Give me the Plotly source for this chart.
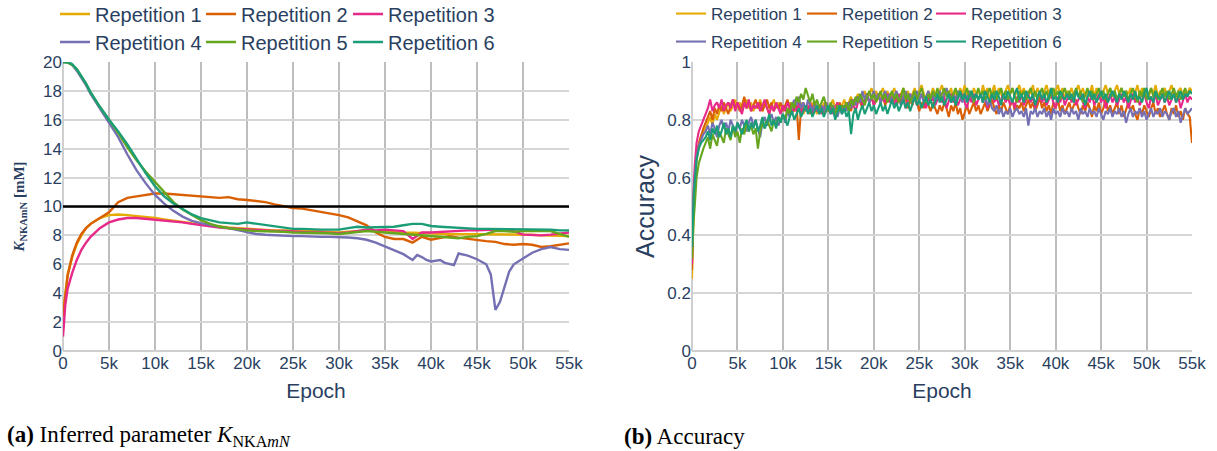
import plotly.graph_objects as go

# ---------------------------------------------------------------- data
REPS = ["Repetition 1", "Repetition 2", "Repetition 3",
        "Repetition 4", "Repetition 5", "Repetition 6"]
COLORS = ["#e6ab02", "#d95f02", "#e7298a", "#7570b3", "#66a61e", "#1b9e77"]

TRUE_K = 10  # reference value of K_NKAmN [mM]

# epochs at which K_NKAmN was logged
k_epochs = [0, 250, 500, 1000, 1500, 2000, 2500, 3000] + list(range(4000, 55001, 1000))

k_rep1 = [2.6, 4.2, 5.3, 6.5, 7.4, 8.0, 8.5, 8.8,
          9.2, 9.4, 9.45, 9.4, 9.35, 9.3, 9.2, 9.1, 9.0, 8.95, 8.85, 8.8,
          8.7, 8.65, 8.55, 8.5, 8.45, 8.4, 8.4, 8.35, 8.35, 8.3,
          8.3, 8.3, 8.25, 8.25, 8.2, 8.25, 8.3, 8.35, 8.3, 8.3,
          8.25, 8.2, 8.2, 8.15, 8.15, 8.1, 8.1, 8.1, 8.1, 8.1,
          8.05, 8.1, 8.1, 8.05, 8.1, 8.05, 8.0, 8.0, 8.0, 7.95]
k_rep2 = [2.4, 4.0, 5.2, 6.6, 7.5, 8.1, 8.5, 8.8,
          9.2, 9.6, 10.3, 10.6, 10.7, 10.8, 10.9, 10.9, 10.85, 10.85, 10.8, 10.75,
          10.7, 10.6, 10.65, 10.5, 10.45, 10.4, 10.3, 10.15, 10.0, 9.9,
          9.85, 9.75, 9.6, 9.5, 9.4, 9.25, 9.0, 8.7, 8.2, 7.9,
          7.75, 7.75, 7.5, 7.9, 7.7, 7.8, 7.95, 7.85, 7.75, 7.7,
          7.6, 7.55, 7.4, 7.35, 7.4, 7.35, 7.2, 7.25, 7.35, 7.45]
k_rep3 = [1.0, 3.2, 4.3, 5.4, 6.3, 7.0, 7.5, 7.9,
          8.5, 8.9, 9.1, 9.2, 9.2, 9.15, 9.1, 9.0, 8.95, 8.9, 8.8, 8.7,
          8.65, 8.55, 8.5, 8.45, 8.4, 8.35, 8.35, 8.3, 8.3, 8.25,
          8.25, 8.2, 8.2, 8.15, 8.15, 8.2, 8.3, 8.4, 8.35, 8.4,
          8.35, 8.3, 7.75, 8.2, 8.2, 8.25, 8.3, 8.3, 8.35, 8.35,
          8.4, 8.4, 8.4, 8.3, 8.05, 8.0, 8.0, 8.05, 8.15, 8.2]
k_rep5 = [20.0, 20.0, 19.95, 19.8, 19.5, 19.0, 18.5, 17.9,
          16.9, 16.0, 15.1, 14.1, 13.2, 12.4, 11.7, 11.0, 10.3, 9.8, 9.4, 9.05,
          8.8, 8.6, 8.5, 8.4, 8.35, 8.3, 8.3, 8.25, 8.25, 8.2,
          8.2, 8.2, 8.15, 8.15, 8.1, 8.15, 8.25, 8.3, 8.25, 8.2,
          8.15, 8.1, 8.05, 8.0, 8.0, 7.95, 7.9, 7.8, 7.9, 7.95,
          8.1, 8.3, 8.3, 8.25, 8.3, 8.3, 8.35, 8.3, 8.1, 7.9]
k_rep6 = [20.0, 20.0, 20.0, 19.85, 19.5, 19.0, 18.5, 17.9,
          16.9, 16.0, 15.2, 14.3, 13.3, 12.3, 11.4, 10.7, 10.2, 9.8, 9.45, 9.2,
          9.05, 8.9, 8.85, 8.8, 8.9, 8.8, 8.7, 8.6, 8.55, 8.45,
          8.45, 8.4, 8.4, 8.4, 8.4, 8.5, 8.6, 8.55, 8.55, 8.55,
          8.6, 8.7, 8.8, 8.8, 8.65, 8.6, 8.55, 8.5, 8.5, 8.45,
          8.45, 8.45, 8.45, 8.4, 8.45, 8.4, 8.4, 8.4, 8.35, 8.35]

# repetition 4 was logged more densely around its late excursion
k4_epochs = [0, 250, 500, 1000, 1500, 2000, 2500, 3000,
             4000, 5000, 6000, 7000, 8000, 9000, 10000, 11000, 12000, 13000, 14000, 15000,
             16000, 17000, 18000, 19000, 20000, 21000, 22000, 23000, 24000, 25000,
             26000, 27000, 28000, 29000, 30000, 31000, 32000, 33000, 34000, 35000,
             36000, 37000, 38000, 38500, 39000, 39500, 40000, 41000, 41500, 42000,
             42500, 43000, 44000, 45000, 46000, 46500, 47000, 47500, 48000, 48500,
             49000, 50000, 51000, 52000, 53000, 54000, 55000]
k_rep4 = [20.0, 20.0, 20.0, 19.8, 19.4, 18.9, 18.4, 17.8,
          16.8, 15.8, 14.8, 13.6, 12.5, 11.6, 10.8, 10.2, 9.7, 9.3, 9.0, 8.85,
          8.7, 8.6, 8.5, 8.35, 8.2, 8.1, 8.05, 8.0, 7.95, 7.95,
          7.95, 7.9, 7.9, 7.9, 7.9, 7.85, 7.8, 7.7, 7.5, 7.25,
          7.0, 6.7, 6.3, 6.65, 6.5, 6.3, 6.2, 6.3, 6.1, 6.05,
          5.95, 6.75, 6.6, 6.35, 6.0, 5.3, 2.85, 3.4, 4.5, 5.5,
          6.0, 6.4, 6.8, 7.05, 7.2, 7.05, 7.0]

# epochs at which accuracy was evaluated
acc_epochs = [0, 100, 200, 300, 400, 500, 750, 1000, 1250] + list(range(1500, 55001, 250))

acc_rep1 = [0.25, 0.42, 0.52, 0.58, 0.62, 0.66, 0.71, 0.74, 0.76,
            0.77, 0.79, 0.81, 0.78, 0.82, 0.80, 0.83, 0.85, 0.82, 0.84, 0.86, 0.83, 0.85, 0.87, 0.84, 0.86, 0.83, 0.85, 0.87, 0.84,
            0.86, 0.83, 0.85, 0.84, 0.87, 0.83, 0.86, 0.84, 0.82, 0.85, 0.87, 0.84, 0.86, 0.83, 0.85, 0.84, 0.82, 0.86, 0.84, 0.83,
            0.85, 0.83, 0.86, 0.82, 0.84, 0.85, 0.83, 0.86, 0.84, 0.82, 0.85, 0.83, 0.86, 0.84, 0.83, 0.85, 0.87, 0.84, 0.86, 0.83,
            0.85, 0.87, 0.84, 0.86, 0.88, 0.85, 0.87, 0.89, 0.86, 0.88, 0.90, 0.87, 0.89, 0.91, 0.88, 0.90, 0.87, 0.89, 0.91, 0.88,
            0.90, 0.87, 0.89, 0.91, 0.88, 0.86, 0.89, 0.91, 0.88, 0.90, 0.87, 0.89, 0.91, 0.88, 0.90, 0.92, 0.89, 0.87, 0.90, 0.88,
            0.91, 0.89, 0.87, 0.90, 0.92, 0.88, 0.90, 0.89, 0.91, 0.87, 0.90, 0.88, 0.91, 0.89, 0.92, 0.88, 0.90, 0.87, 0.91, 0.89,
            0.90, 0.88, 0.92, 0.89, 0.91, 0.87, 0.90, 0.92, 0.88, 0.91, 0.89, 0.87, 0.90, 0.92, 0.89, 0.91, 0.88, 0.90, 0.92, 0.89,
            0.91, 0.88, 0.90, 0.89, 0.92, 0.88, 0.91, 0.89, 0.87, 0.90, 0.92, 0.89, 0.91, 0.88, 0.90, 0.92, 0.89, 0.91, 0.87, 0.90,
            0.89, 0.91, 0.88, 0.90, 0.92, 0.89, 0.91, 0.88, 0.90, 0.89, 0.92, 0.88, 0.91, 0.89, 0.87, 0.90, 0.92, 0.89, 0.91, 0.88,
            0.90, 0.92, 0.89, 0.91, 0.88, 0.90, 0.89, 0.91, 0.87, 0.90, 0.92, 0.88, 0.91, 0.89, 0.90, 0.88, 0.91, 0.89, 0.92, 0.88,
            0.90, 0.89, 0.91, 0.88, 0.90, 0.92, 0.89, 0.87, 0.90, 0.91, 0.88, 0.90, 0.89, 0.91, 0.90]
acc_rep2 = [0.28, 0.45, 0.55, 0.60, 0.64, 0.68, 0.72, 0.75, 0.77,
            0.79, 0.81, 0.83, 0.80, 0.84, 0.82, 0.85, 0.83, 0.86, 0.84, 0.82, 0.85, 0.87, 0.84, 0.86, 0.83, 0.85, 0.88, 0.84, 0.86,
            0.83, 0.85, 0.87, 0.84, 0.86, 0.83, 0.85, 0.87, 0.84, 0.86, 0.83, 0.85, 0.84, 0.86, 0.83, 0.85, 0.87, 0.84, 0.86, 0.83,
            0.85, 0.73, 0.84, 0.86, 0.83, 0.85, 0.82, 0.84, 0.86, 0.83, 0.85, 0.84, 0.82, 0.86, 0.84, 0.83, 0.85, 0.82, 0.84, 0.86,
            0.83, 0.85, 0.84, 0.86, 0.83, 0.87, 0.85, 0.88, 0.86, 0.84, 0.87, 0.89, 0.86, 0.88, 0.85, 0.87, 0.89, 0.86, 0.88, 0.85,
            0.87, 0.89, 0.86, 0.88, 0.85, 0.87, 0.89, 0.86, 0.88, 0.84, 0.87, 0.85, 0.88, 0.86, 0.83, 0.86, 0.84, 0.87, 0.85, 0.83,
            0.86, 0.84, 0.82, 0.85, 0.83, 0.86, 0.84, 0.81, 0.85, 0.83, 0.86, 0.82, 0.84, 0.80, 0.83, 0.85, 0.82, 0.84, 0.86, 0.83,
            0.85, 0.82, 0.84, 0.86, 0.83, 0.85, 0.87, 0.84, 0.82, 0.85, 0.83, 0.86, 0.84, 0.82, 0.85, 0.87, 0.83, 0.85, 0.84, 0.86,
            0.83, 0.85, 0.87, 0.84, 0.86, 0.83, 0.85, 0.88, 0.84, 0.86, 0.83, 0.85, 0.82, 0.86, 0.84, 0.87, 0.83, 0.85, 0.82, 0.84,
            0.86, 0.83, 0.85, 0.87, 0.84, 0.82, 0.85, 0.83, 0.86, 0.84, 0.81, 0.85, 0.83, 0.86, 0.82, 0.84, 0.87, 0.83, 0.85, 0.82,
            0.84, 0.86, 0.82, 0.85, 0.81, 0.84, 0.86, 0.83, 0.85, 0.82, 0.80, 0.84, 0.82, 0.85, 0.83, 0.81, 0.84, 0.86, 0.82, 0.84,
            0.81, 0.83, 0.85, 0.82, 0.80, 0.84, 0.82, 0.85, 0.81, 0.83, 0.80, 0.84, 0.82, 0.81, 0.72]
acc_rep3 = [0.30, 0.48, 0.58, 0.64, 0.68, 0.72, 0.76, 0.78, 0.80,
            0.82, 0.84, 0.87, 0.83, 0.85, 0.86, 0.84, 0.87, 0.83, 0.85, 0.86, 0.84, 0.87, 0.83, 0.86, 0.84, 0.82, 0.86, 0.84, 0.87,
            0.83, 0.85, 0.84, 0.86, 0.83, 0.85, 0.87, 0.84, 0.82, 0.85, 0.83, 0.86, 0.84, 0.82, 0.85, 0.83, 0.86, 0.84, 0.82, 0.85,
            0.83, 0.86, 0.82, 0.84, 0.85, 0.83, 0.86, 0.82, 0.84, 0.83, 0.85, 0.82, 0.84, 0.86, 0.83, 0.85, 0.82, 0.84, 0.86, 0.83,
            0.85, 0.83, 0.86, 0.84, 0.87, 0.85, 0.83, 0.86, 0.88, 0.85, 0.87, 0.89, 0.86, 0.88, 0.85, 0.87, 0.89, 0.86, 0.88, 0.86,
            0.89, 0.86, 0.88, 0.85, 0.87, 0.89, 0.86, 0.88, 0.84, 0.87, 0.89, 0.86, 0.88, 0.85, 0.87, 0.89, 0.86, 0.84, 0.88, 0.86,
            0.88, 0.85, 0.87, 0.89, 0.86, 0.88, 0.84, 0.87, 0.89, 0.86, 0.88, 0.85, 0.87, 0.89, 0.86, 0.84, 0.88, 0.86, 0.89, 0.85,
            0.87, 0.89, 0.86, 0.88, 0.84, 0.87, 0.89, 0.86, 0.88, 0.85, 0.87, 0.89, 0.86, 0.88, 0.85, 0.87, 0.84, 0.88, 0.86, 0.89,
            0.85, 0.87, 0.89, 0.86, 0.88, 0.84, 0.87, 0.89, 0.86, 0.88, 0.85, 0.87, 0.89, 0.86, 0.84, 0.88, 0.86, 0.89, 0.85, 0.87,
            0.89, 0.86, 0.88, 0.85, 0.87, 0.89, 0.86, 0.84, 0.88, 0.86, 0.89, 0.85, 0.87, 0.89, 0.86, 0.88, 0.84, 0.87, 0.89, 0.86,
            0.88, 0.85, 0.87, 0.89, 0.86, 0.88, 0.84, 0.87, 0.89, 0.86, 0.88, 0.85, 0.87, 0.89, 0.86, 0.84, 0.88, 0.86, 0.89, 0.85,
            0.87, 0.89, 0.86, 0.88, 0.85, 0.87, 0.89, 0.86, 0.88, 0.84, 0.87, 0.89, 0.86, 0.88, 0.87]
acc_rep4 = [0.35, 0.50, 0.56, 0.60, 0.64, 0.67, 0.71, 0.73, 0.75,
            0.76, 0.78, 0.75, 0.79, 0.77, 0.74, 0.78, 0.80, 0.77, 0.79, 0.76, 0.80, 0.78, 0.75, 0.79, 0.77, 0.80, 0.78, 0.76, 0.79,
            0.81, 0.78, 0.80, 0.77, 0.74, 0.79, 0.81, 0.78, 0.80, 0.82, 0.79, 0.81, 0.78, 0.80, 0.82, 0.79, 0.83, 0.81, 0.85, 0.87,
            0.85, 0.88, 0.84, 0.86, 0.83, 0.87, 0.85, 0.83, 0.86, 0.84, 0.82, 0.85, 0.83, 0.86, 0.84, 0.82, 0.85, 0.83, 0.81, 0.84,
            0.82, 0.85, 0.83, 0.86, 0.84, 0.87, 0.85, 0.88, 0.86, 0.90, 0.87, 0.89, 0.86, 0.88, 0.90, 0.87, 0.89, 0.86, 0.88, 0.90,
            0.87, 0.89, 0.86, 0.88, 0.90, 0.87, 0.85, 0.88, 0.90, 0.87, 0.89, 0.86, 0.88, 0.90, 0.87, 0.89, 0.86, 0.88, 0.90, 0.87,
            0.89, 0.86, 0.88, 0.90, 0.87, 0.89, 0.91, 0.88, 0.86, 0.89, 0.87, 0.90, 0.88, 0.86, 0.89, 0.87, 0.90, 0.88, 0.86, 0.89,
            0.87, 0.89, 0.86, 0.88, 0.85, 0.87, 0.84, 0.83, 0.85, 0.82, 0.84, 0.81, 0.83, 0.82, 0.84, 0.81, 0.83, 0.84, 0.82, 0.83,
            0.81, 0.84, 0.78, 0.83, 0.82, 0.84, 0.81, 0.83, 0.82, 0.84, 0.81, 0.83, 0.80, 0.84, 0.82, 0.83, 0.81, 0.84, 0.82, 0.83,
            0.81, 0.84, 0.82, 0.83, 0.80, 0.84, 0.82, 0.83, 0.81, 0.84, 0.82, 0.83, 0.81, 0.84, 0.82, 0.80, 0.83, 0.82, 0.84, 0.81,
            0.83, 0.82, 0.84, 0.81, 0.83, 0.79, 0.82, 0.84, 0.81, 0.83, 0.82, 0.84, 0.81, 0.83, 0.80, 0.82, 0.84, 0.81, 0.83, 0.82,
            0.84, 0.81, 0.83, 0.82, 0.80, 0.83, 0.84, 0.81, 0.83, 0.79, 0.82, 0.84, 0.82, 0.83, 0.84]
acc_rep5 = [0.32, 0.42, 0.46, 0.50, 0.55, 0.60, 0.65, 0.68, 0.70,
            0.72, 0.74, 0.70, 0.75, 0.73, 0.71, 0.76, 0.74, 0.72, 0.77, 0.75, 0.73, 0.78, 0.74, 0.76, 0.72, 0.77, 0.75, 0.79, 0.76,
            0.78, 0.75, 0.77, 0.70, 0.76, 0.79, 0.77, 0.80, 0.78, 0.76, 0.80, 0.78, 0.81, 0.79, 0.82, 0.80, 0.84, 0.82, 0.86, 0.84,
            0.88, 0.86, 0.89, 0.87, 0.91, 0.88, 0.86, 0.89, 0.85, 0.87, 0.84, 0.86, 0.88, 0.85, 0.83, 0.86, 0.84, 0.82, 0.85, 0.83,
            0.85, 0.84, 0.86, 0.83, 0.87, 0.85, 0.88, 0.86, 0.89, 0.87, 0.85, 0.88, 0.90, 0.87, 0.89, 0.86, 0.88, 0.90, 0.87, 0.89,
            0.86, 0.88, 0.90, 0.87, 0.89, 0.86, 0.88, 0.91, 0.87, 0.89, 0.86, 0.88, 0.90, 0.87, 0.89, 0.91, 0.88, 0.86, 0.89, 0.87,
            0.90, 0.88, 0.91, 0.87, 0.89, 0.91, 0.88, 0.90, 0.87, 0.89, 0.91, 0.88, 0.90, 0.87, 0.89, 0.91, 0.88, 0.90, 0.86, 0.89,
            0.91, 0.88, 0.90, 0.87, 0.89, 0.91, 0.88, 0.90, 0.87, 0.89, 0.91, 0.88, 0.90, 0.87, 0.89, 0.91, 0.88, 0.86, 0.90, 0.88,
            0.90, 0.87, 0.89, 0.91, 0.88, 0.90, 0.87, 0.89, 0.91, 0.88, 0.90, 0.87, 0.89, 0.91, 0.88, 0.90, 0.87, 0.89, 0.91, 0.88,
            0.90, 0.87, 0.89, 0.91, 0.88, 0.90, 0.86, 0.89, 0.91, 0.88, 0.90, 0.87, 0.89, 0.91, 0.88, 0.90, 0.87, 0.89, 0.91, 0.88,
            0.90, 0.87, 0.89, 0.91, 0.88, 0.90, 0.87, 0.89, 0.91, 0.88, 0.86, 0.90, 0.88, 0.91, 0.87, 0.89, 0.91, 0.88, 0.90, 0.87,
            0.89, 0.91, 0.88, 0.90, 0.87, 0.89, 0.91, 0.88, 0.90, 0.87, 0.89, 0.91, 0.88, 0.90, 0.89]
acc_rep6 = [0.36, 0.48, 0.54, 0.58, 0.62, 0.66, 0.70, 0.72, 0.73,
            0.74, 0.76, 0.73, 0.77, 0.75, 0.78, 0.74, 0.76, 0.79, 0.75, 0.77, 0.74, 0.78, 0.76, 0.79, 0.77, 0.75, 0.78, 0.80, 0.76,
            0.79, 0.77, 0.80, 0.76, 0.78, 0.81, 0.77, 0.79, 0.82, 0.78, 0.80, 0.77, 0.81, 0.79, 0.82, 0.80, 0.78, 0.81, 0.83, 0.80,
            0.82, 0.84, 0.81, 0.83, 0.85, 0.82, 0.84, 0.81, 0.83, 0.85, 0.82, 0.84, 0.81, 0.83, 0.85, 0.82, 0.84, 0.80, 0.83, 0.85,
            0.82, 0.84, 0.81, 0.83, 0.75, 0.82, 0.84, 0.80, 0.83, 0.85, 0.82, 0.84, 0.86, 0.83, 0.85, 0.82, 0.84, 0.86, 0.83, 0.85,
            0.82, 0.85, 0.87, 0.84, 0.86, 0.83, 0.85, 0.87, 0.84, 0.86, 0.83, 0.86, 0.88, 0.85, 0.87, 0.84, 0.86, 0.88, 0.85, 0.87,
            0.84, 0.87, 0.89, 0.86, 0.88, 0.85, 0.87, 0.89, 0.86, 0.88, 0.85, 0.88, 0.90, 0.87, 0.89, 0.86, 0.88, 0.90, 0.87, 0.89,
            0.87, 0.89, 0.86, 0.90, 0.88, 0.86, 0.89, 0.87, 0.90, 0.88, 0.85, 0.89, 0.87, 0.90, 0.88, 0.86, 0.89, 0.91, 0.87, 0.89,
            0.86, 0.90, 0.88, 0.87, 0.89, 0.85, 0.88, 0.90, 0.87, 0.89, 0.86, 0.88, 0.91, 0.87, 0.88, 0.86, 0.90, 0.88, 0.87, 0.89,
            0.87, 0.89, 0.86, 0.90, 0.88, 0.87, 0.89, 0.85, 0.88, 0.90, 0.87, 0.89, 0.86, 0.88, 0.90, 0.87, 0.89, 0.86, 0.88, 0.90,
            0.88, 0.86, 0.89, 0.87, 0.90, 0.88, 0.86, 0.89, 0.87, 0.90, 0.87, 0.88, 0.86, 0.89, 0.91, 0.87, 0.88, 0.86, 0.90, 0.88,
            0.87, 0.89, 0.86, 0.88, 0.90, 0.87, 0.89, 0.86, 0.88, 0.90, 0.87, 0.89, 0.88, 0.90, 0.89]

k_series = [(k_epochs, k_rep1), (k_epochs, k_rep2), (k_epochs, k_rep3),
            (k4_epochs, k_rep4), (k_epochs, k_rep5), (k_epochs, k_rep6)]
acc_series = [acc_rep1, acc_rep2, acc_rep3, acc_rep4, acc_rep5, acc_rep6]

# ---------------------------------------------------------------- figure
W, H = 1217, 451
FONT = "Liberation Sans, Arial, sans-serif"
SERIF = "Liberation Serif, Times New Roman, serif"
INK = "#2a3f5f"

fig = go.Figure()

# one single-entry legend per trace, laid out as a 3 x 2 grid above each panel
for i, (name, color) in enumerate(zip(REPS, COLORS)):
    ex, ky = k_series[i]
    fig.add_trace(go.Scatter(
        x=ex, y=ky, mode="lines", name=name,
        line=dict(color=color, width=2.4),
        xaxis="x", yaxis="y",
        legend="legend" if i == 0 else f"legend{i + 1}",
    ))
for i, (name, color) in enumerate(zip(REPS, COLORS)):
    fig.add_trace(go.Scatter(
        x=acc_epochs, y=acc_series[i], mode="lines", name=name,
        line=dict(color=color, width=2.1),
        xaxis="x2", yaxis="y2",
        legend=f"legend{i + 7}",
    ))

# reference value of the inferred parameter
fig.add_shape(type="line", xref="x domain", yref="y", x0=0, x1=1,
              y0=TRUE_K, y1=TRUE_K, line=dict(color="black", width=2.5))

y_dom = [1 - 351 / H, 1 - 62 / H]
x1_dom = [63 / W, 569 / W]
x2_dom = [692 / W, 1192 / W]

xgrid = dict(showgrid=True, gridcolor="#bdbdbd", gridwidth=2,
             zeroline=True, zerolinecolor="#cfcfcf", zerolinewidth=2,
             showline=False, automargin=False, dtick=5000, range=[0, 55000],
             tickfont=dict(family=FONT, size=17, color=INK),
             title=dict(text="Epoch", font=dict(family=FONT, size=21, color=INK),
                        standoff=11))
ygrid = dict(showgrid=True, gridcolor="#d6d6d6", gridwidth=1.5,
             zeroline=True, zerolinecolor="#cfcfcf", zerolinewidth=2,
             showline=False, automargin=False,
             tickfont=dict(family=FONT, size=17, color=INK))

fig.update_layout(
    width=W, height=H,
    margin=dict(l=0, r=0, t=0, b=0, autoexpand=False),
    paper_bgcolor="white", plot_bgcolor="white",
    font=dict(family=FONT, color=INK),
    xaxis=dict(domain=x1_dom, anchor="y", **xgrid),
    yaxis=dict(domain=y_dom, anchor="x", range=[0, 20], dtick=2,
               title=dict(text="<b><i>K</i><sub>NKAmN</sub> [mM]</b>",
                          font=dict(family=SERIF, size=15, color=INK), standoff=14),
               **ygrid),
    xaxis2=dict(domain=x2_dom, anchor="y2", **xgrid),
    yaxis2=dict(domain=y_dom, anchor="x2", range=[0, 1], dtick=0.2,
                title=dict(text="Accuracy", font=dict(family=FONT, size=25, color=INK),
                           standoff=5),
                **ygrid),
    showlegend=True,
)

# legend grid: text start (px) of each column, centre (px) of each row
left_cols = [96, 242, 389]
right_cols = [712, 843, 972]
rows = [14, 42]
legends = {}
for i in range(12):
    panel_cols = left_cols if i < 6 else right_cols
    j = i % 6
    key = "legend" if i == 0 else f"legend{i + 1}"
    legends[key] = dict(
        x=(panel_cols[j % 3] - 41) / W, y=1 - rows[j // 3] / H,
        xanchor="left", yanchor="middle", orientation="h",
        bgcolor="rgba(0,0,0,0)", borderwidth=0,
        font=dict(family=FONT, size=20 if i < 6 else 17, color=INK),
    )
fig.update_layout(**legends)

# sub-figure captions
fig.add_annotation(xref="paper", yref="paper", x=5 / W, y=1 - 436 / H,
                   xanchor="left", yanchor="middle", showarrow=False,
                   text="<b>(a)</b> Inferred parameter <i>K</i><sub>NKA<i>mN</i></sub>",
                   font=dict(family=SERIF, size=23, color="black"))
fig.add_annotation(xref="paper", yref="paper", x=622 / W, y=1 - 436 / H,
                   xanchor="left", yanchor="middle", showarrow=False,
                   text="<b>(b)</b> Accuracy",
                   font=dict(family=SERIF, size=23, color="black"))

fig.write_html("out.html")
